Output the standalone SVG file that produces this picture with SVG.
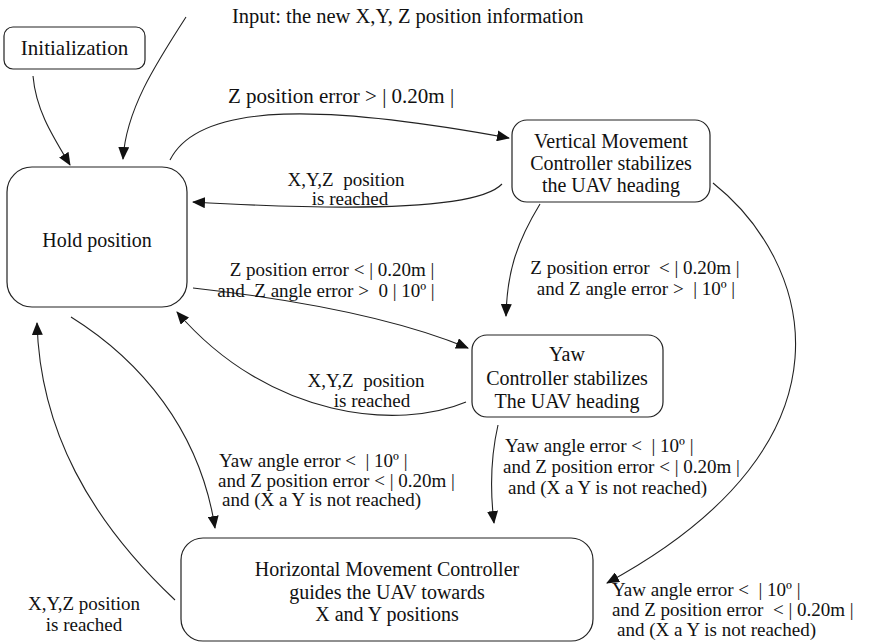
<svg xmlns="http://www.w3.org/2000/svg" width="878" height="644" viewBox="0 0 878 644">
<style>
  .box { fill: #fff; stroke: #222; stroke-width: 1.2; }
  .t { font-size: 20px; fill: #111; text-anchor: middle; }
  .l { font-size: 19px; fill: #111; }
  .c { fill: none; stroke: #222; stroke-width: 1.1; }
</style>
<defs>
  <marker id="ah" markerWidth="13" markerHeight="11" refX="12" refY="5.5" orient="auto" markerUnits="userSpaceOnUse">
    <path d="M0,0 L13,5.5 L0,11 Z" fill="#111"/>
  </marker>
</defs>

<g id="connectors">
  <path class="c" d="M33,76 C 36,110 52,135 70,165" marker-end="url(#ah)"/>
  <path class="c" d="M186,17 C 155,65 126,110 123,159" marker-end="url(#ah)"/>
  <path class="c" d="M170,160 C 200,100 330,105 509,138" marker-end="url(#ah)"/>
  <path class="c" d="M502,184 Q 470,218 193,202" marker-end="url(#ah)"/>
  <path class="c" d="M540,204 C 515,245 507,275 506,316" marker-end="url(#ah)"/>
  <path class="c" d="M713,183 C 810,260 870,440 607,583" marker-end="url(#ah)"/>
  <path class="c" d="M193,288 C 300,300 400,320 468,348" marker-end="url(#ah)"/>
  <path class="c" d="M466,402 C 400,430 270,420 177,312" marker-end="url(#ah)"/>
  <path class="c" d="M71,317 C 140,360 200,430 215,528" marker-end="url(#ah)"/>
  <path class="c" d="M175,600 C 90,520 40,430 37,323" marker-end="url(#ah)"/>
  <path class="c" d="M498,425 C 490,460 490,490 494,523" marker-end="url(#ah)"/>
</g>

<g font-family="Liberation Serif, DejaVu Serif, serif">
<g id="init">
  <rect class="box" x="4" y="27" width="141" height="42" rx="9"/>
  <text class="t" x="74.5" y="55" style="font-size:21px">Initialization</text>
</g>

<g id="hold">
  <rect class="box" x="7" y="167" width="180" height="140" rx="25"/>
  <text class="t" x="97" y="247">Hold position</text>
</g>

<g id="vertical">
  <rect class="box" x="512" y="120" width="198" height="82" rx="15"/>
  <text class="t" x="611" y="148">Vertical Movement</text>
  <text class="t" x="611" y="170">Controller stabilizes</text>
  <text class="t" x="611" y="192">the UAV heading</text>
</g>

<g id="yaw">
  <rect class="box" x="472" y="335" width="191" height="82" rx="15"/>
  <text class="t" x="567" y="361">Yaw</text>
  <text class="t" x="567" y="385">Controller stabilizes</text>
  <text class="t" x="567" y="408">The UAV heading</text>
</g>

<g id="horizontal">
  <rect class="box" x="181" y="538" width="412" height="103" rx="22"/>
  <text class="t" x="387" y="576">Horizontal Movement Controller</text>
  <text class="t" x="387" y="599">guides the UAV towards</text>
  <text class="t" x="387" y="621">X and Y positions</text>
</g>

<g id="labels">
  <text class="l" x="232" y="23" style="font-size:20.5px">Input: the new X,Y, Z position information</text>
  <text class="l" x="228" y="103" style="font-size:21px">Z position error &gt; | 0.20m |</text>
  <text class="l" x="346" y="186" text-anchor="middle" xml:space="preserve">X,Y,Z  position</text>
  <text class="l" x="350" y="205" text-anchor="middle">is reached</text>
  <text class="l" x="332" y="276" text-anchor="middle">Z position error &lt; | 0.20m |</text>
  <text class="l" x="326" y="297" text-anchor="middle" xml:space="preserve">and  Z angle error &gt;  0 | 10º |</text>
  <text class="l" x="635" y="274" text-anchor="middle" xml:space="preserve">Z position error  &lt; | 0.20m |</text>
  <text class="l" x="636" y="295" text-anchor="middle" xml:space="preserve">and Z angle error &gt;  | 10º |</text>
  <text class="l" x="366" y="387" text-anchor="middle" xml:space="preserve">X,Y,Z  position</text>
  <text class="l" x="372" y="407" text-anchor="middle">is reached</text>
  <text class="l" x="505" y="452" xml:space="preserve">Yaw angle error &lt;  | 10º |</text>
  <text class="l" x="503" y="473">and Z position error &lt; | 0.20m |</text>
  <text class="l" x="508" y="494">and (X a Y is not reached)</text>
  <text class="l" x="219" y="467" xml:space="preserve">Yaw angle error &lt;  | 10º |</text>
  <text class="l" x="218" y="487">and Z position error &lt; | 0.20m |</text>
  <text class="l" x="222" y="506">and (X a Y is not reached)</text>
  <text class="l" x="84" y="610" text-anchor="middle">X,Y,Z position</text>
  <text class="l" x="84" y="631" text-anchor="middle">is reached</text>
  <text class="l" x="612" y="596" xml:space="preserve">Yaw angle error &lt;  | 10º |</text>
  <text class="l" x="612" y="616" xml:space="preserve">and Z position error  &lt; | 0.20m |</text>
  <text class="l" x="617" y="636">and (X a Y is not reached)</text>
</g>
</g>
</svg>
